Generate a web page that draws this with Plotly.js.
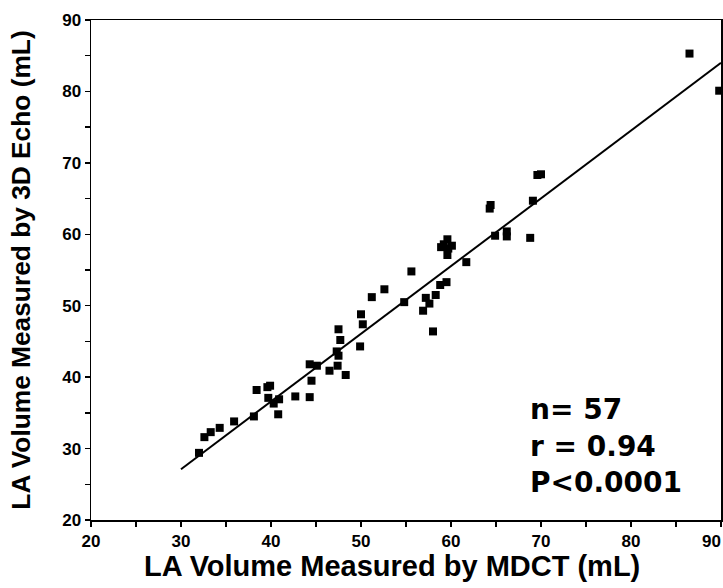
<!DOCTYPE html>
<html>
<head>
<meta charset="utf-8">
<script src="https://cdn.plot.ly/plotly-3.0.1.min.js"></script>
<style>
  html, body { margin: 0; padding: 0; background: #fff; }
  #chart { width: 723px; height: 588px; }
</style>
</head>
<body>
<div id="chart"></div>
<script>
// MDCT volumes (x) and 3D echo volumes (y), mL
var mdct = [32.0, 32.6, 33.3, 34.3, 35.9, 38.1, 38.4, 39.6, 39.9, 39.7,
            40.3, 40.9, 40.8, 42.7, 44.3, 44.5, 44.3, 45.1, 46.5, 47.4,
            48.3, 47.3, 47.5, 47.7, 47.5, 49.9, 50.2, 50.0, 51.2, 52.6,
            54.8, 55.6, 56.9, 57.2, 57.6, 58.3, 58.0, 58.8, 59.5, 61.7,
            59.6, 58.9, 60.1, 59.6, 59.2, 59.7, 64.3, 64.4, 64.9, 66.2,
            66.2, 68.8, 69.1, 69.6, 70.0, 86.5, 89.8];
var echo = [29.4, 31.6, 32.3, 32.9, 33.8, 34.5, 38.2, 38.6, 38.8, 37.1,
            36.3, 36.9, 34.8, 37.3, 37.2, 39.5, 41.8, 41.6, 40.9, 41.6,
            40.3, 43.6, 43.0, 45.2, 46.7, 44.3, 47.4, 48.8, 51.2, 52.3,
            50.5, 54.8, 49.3, 51.1, 50.3, 51.5, 46.4, 52.9, 53.3, 56.1,
            59.3, 58.2, 58.4, 57.1, 58.6, 58.0, 63.6, 64.1, 59.8, 60.4,
            59.7, 59.5, 64.7, 68.3, 68.4, 85.3, 80.1];
// regression line end points
var fitX = [30, 90];
var fitY = [27.1, 84.0];
var tickVals = [20, 30, 40, 50, 60, 70, 80, 90];
var xTickText = ['20', '30', '40', '50', '60', '70', '80', '90\u2007\u2007'];
var yTickText = ['20', '30', '40', '50', '60', '70', '80', '90'];
var minorTickVals = [25, 35, 45, 55, 65, 75, 85];
var statsLines = ['n= 57', 'r = 0.94', 'P<0.0001'];
var statsY = [35.5, 30.3, 25.3];
var xTitle = 'LA Volume Measured by MDCT (mL)';
var yTitle = 'LA Volume Measured by 3D Echo (mL)';

var fontFam = 'Arial, "Liberation Sans", sans-serif';
var statFam = '"DejaVu Sans", sans-serif';

var traces = [
  {x: fitX, y: fitY, mode: 'lines', type: 'scatter',
   line: {color: '#000', width: 2}, hoverinfo: 'skip'},
  {x: mdct, y: echo, mode: 'markers', type: 'scatter',
   marker: {symbol: 'square', size: 8, color: '#000'}}
];

var axisCommon = {
  range: [20, 90], showgrid: false, zeroline: false,
  showline: true, linecolor: '#000', linewidth: 1.5, mirror: true,
  ticks: 'outside', ticklen: 5, tickwidth: 1.5, tickcolor: '#000',
  tickvals: tickVals,
  ticklabeloverflow: 'allow',
  tickfont: {family: fontFam, size: 17, color: '#000', weight: 'bold'},
  minor: {tickvals: minorTickVals, ticks: 'outside', ticklen: 5, tickwidth: 1.5, tickcolor: '#000', showgrid: false}
};

var annots = statsLines.map(function (t, i) {
  return {text: t, xref: 'x', yref: 'y', x: 68.6, y: statsY[i],
          xanchor: 'left', yanchor: 'middle', showarrow: false,
          font: {family: statFam, size: 28, color: '#000', weight: 'bold'}};
});
annots.push({text: xTitle, xref: 'paper', yref: 'paper', x: 0.477, y: 0,
             yshift: -46, xanchor: 'center', yanchor: 'middle', showarrow: false,
             font: {family: fontFam, size: 29, color: '#000', weight: 'bold'}});

var layout = {
  width: 723, height: 588,
  margin: {l: 91, r: 2, t: 20, b: 68},
  paper_bgcolor: '#fff', plot_bgcolor: '#fff',
  showlegend: false,
  font: {family: fontFam, color: '#000'},
  xaxis: Object.assign({}, axisCommon, {ticktext: xTickText}),
  yaxis: Object.assign({}, axisCommon, {
    ticktext: yTickText,
    title: {text: yTitle, standoff: 24,
            font: {family: fontFam, size: 26.3, color: '#000', weight: 'bold'}}
  }),
  annotations: annots
};

Plotly.newPlot('chart', traces, layout, {displayModeBar: false, staticPlot: true});
</script>
</body>
</html>
